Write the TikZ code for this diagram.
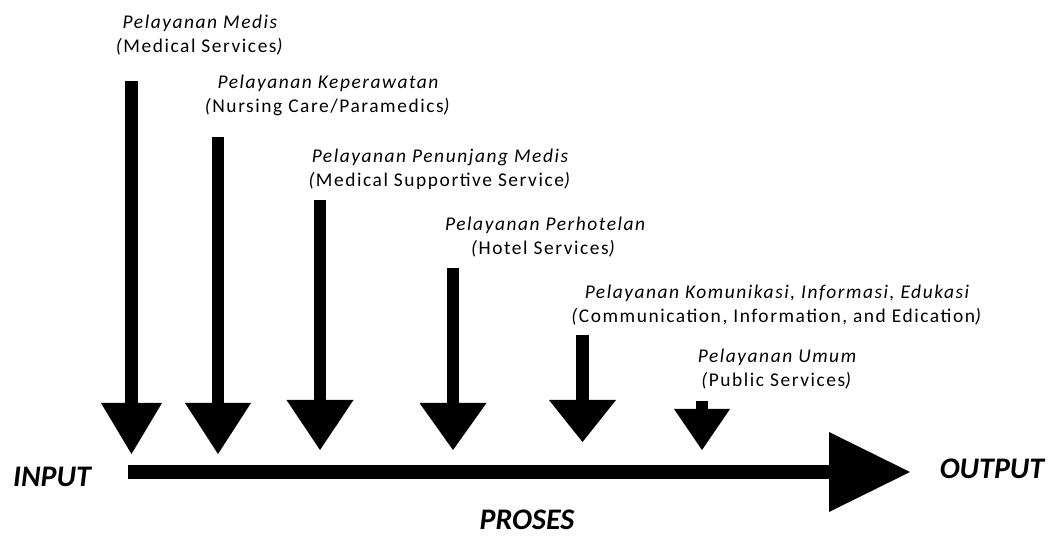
\documentclass[tikz,border=0pt]{standalone}
\usepackage{fontspec}
\setmainfont{Carlito}
\newfontfamily\svcfont{Carlito}[LetterSpace=8]
\usetikzlibrary{arrows.meta}

\begin{document}
\begin{tikzpicture}[x=1bp,y=1bp]
\tikzset{
  svc/.style={font={\svcfont\fontsize{19.5}{24.5}\selectfont}, align=center, inner sep=0pt, anchor=base},
  stage/.style={font={\fontsize{30}{36}\selectfont\bfseries\itshape}, inner sep=0pt, anchor=base},
  down/.style 2 args={line width=12.5bp, -{Triangle[width=#1, length=#2, line width=0pt]}},
}
\useasboundingbox (0,0) rectangle (1056,-536);
\node[svc] (med) at (200,-53) {\itshape Pelayanan Medis\\\textit{(}Medical Services\textit{)}};
\node[svc] (nurse) at (328,-113) {\itshape Pelayanan Keperawatan\\\textit{(}Nursing Care/Paramedics\textit{)}};
\node[svc] (supp) at (440,-187) {\itshape Pelayanan Penunjang Medis\\\textit{(}Medical Supportive Service\textit{)}};
\node[svc, align=left, anchor=base west] (hotel) at (445,-255) {\itshape Pelayanan Perhotelan\\\hspace*{26bp}\textit{(}Hotel Services\textit{)}};
\node[svc] (kie) at (777,-323) {\itshape Pelayanan Komunikasi, Informasi, Edukasi\\\textit{(}Communication, Information, and Edication\textit{)}};
\node[svc] (umum) at (777,-387) {\itshape Pelayanan Umum\\\textit{(}Public Services\textit{)}};
\coordinate (s1) at (131.5,-81);
\coordinate (t1) at (131.5,-454);
\coordinate (s2) at (218,-137);
\coordinate (t2) at (218,-454);
\coordinate (s3) at (320,-200);
\coordinate (t3) at (320,-450);
\coordinate (s4) at (453,-268);
\coordinate (t4) at (453,-450);
\coordinate (s5) at (582.5,-335);
\coordinate (t5) at (582.5,-442);
\coordinate (s6) at (702,-401);
\coordinate (t6) at (702,-450);
\draw[down={61bp}{51bp}] (s1) -- (t1);
\draw[down={66bp}{51bp}] (s2) -- (t2);
\draw[down={67bp}{50bp}] (s3) -- (t3);
\draw[down={67bp}{47bp}] (s4) -- (t4);
\draw[down={67bp}{42bp}] (s5) -- (t5);
\draw[down={56bp}{41bp}] (s6) -- (t6);
\node[stage] (input) at (52,-486) {INPUT};
\node[stage] (output) at (992,-478) {OUTPUT};
\node[stage] (proses) at (527,-529) {PROSES};
\coordinate (pin) at (128,-472);
\coordinate (pout) at (910,-472);
\draw[line width=14bp, -{Triangle[width=80bp, length=81bp, line width=0pt]}] (pin) -- (pout);
\end{tikzpicture}
\end{document}
